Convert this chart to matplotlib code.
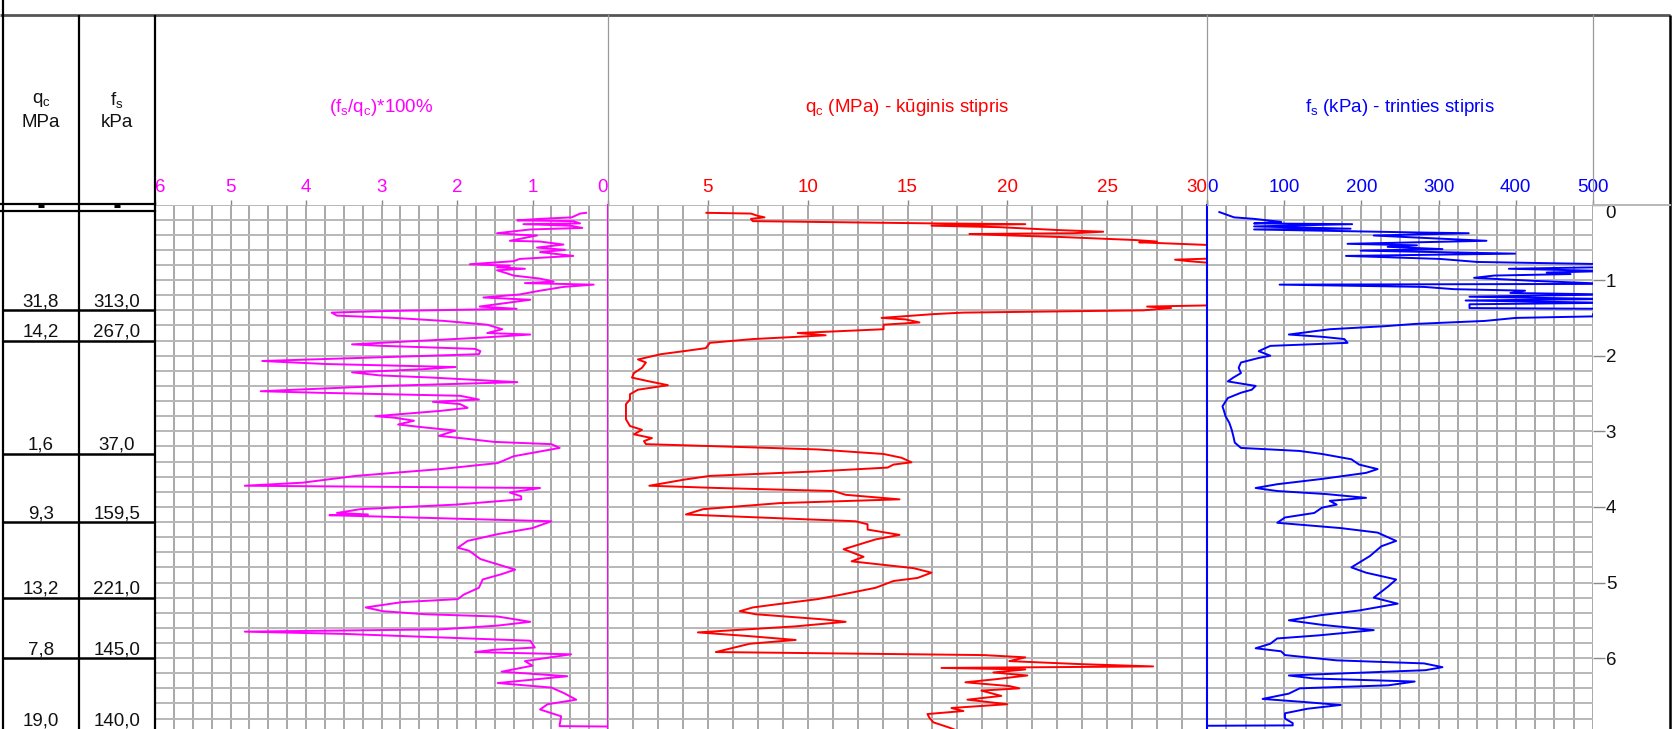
import numpy as np
import matplotlib
matplotlib.use('Agg')
import matplotlib.pyplot as plt
from matplotlib import transforms as mtransforms

plt.rcParams['font.family'] = ['Liberation Sans', 'DejaVu Sans']
plt.rcParams['mathtext.fontset'] = 'custom'
plt.rcParams['mathtext.rm'] = 'Liberation Sans'
plt.rcParams['mathtext.it'] = 'Liberation Sans:italic'

# ---------------- data ----------------
fr_depth = [0.11, 0.12, 0.17, 0.19, 0.21, 0.22, 0.25, 0.26, 0.28, 0.31, 0.33, 0.38, 0.40, 0.41, 0.48,
            0.49, 0.53, 0.57, 0.60, 0.63, 0.68, 0.72, 0.75, 0.79, 0.81, 0.83, 0.85, 0.87, 0.91, 0.94,
            0.98, 1.02, 1.04, 1.06, 1.09, 1.14, 1.19, 1.23, 1.26, 1.32, 1.35, 1.38, 1.41, 1.43, 1.47,
            1.50, 1.54, 1.59, 1.65, 1.70, 1.72, 1.76, 1.85, 1.87, 1.91, 1.94, 1.98, 2.07, 2.11, 2.15,
            2.18, 2.22, 2.26, 2.29, 2.35, 2.40, 2.47, 2.49, 2.53, 2.58, 2.61, 2.64, 2.69, 2.73, 2.80,
            2.82, 2.86, 2.91, 2.95, 2.99, 3.06, 3.10, 3.14, 3.17, 3.22, 3.24, 3.33, 3.42, 3.50, 3.59,
            3.68, 3.72, 3.75, 3.81, 3.86, 3.90, 3.97, 4.03, 4.08, 4.10, 4.11, 4.19, 4.28, 4.36, 4.45,
            4.54, 4.58, 4.69, 4.83, 4.89, 4.96, 5.07, 5.16, 5.22, 5.26, 5.33, 5.38, 5.42, 5.45, 5.52,
            5.57, 5.62, 5.65, 5.68, 5.77, 5.86, 5.89, 5.92, 5.95, 6.04, 6.10, 6.18, 6.24, 6.33, 6.39,
            6.46, 6.55, 6.61, 6.68, 6.77, 6.88, 6.90, 6.905]
fr_vals = [0.29, 0.37, 0.48, 0.90, 1.20, 0.46, 0.37, 1.12, 0.50, 0.34, 1.03, 1.47, 1.17, 0.94, 1.30,
           0.90, 0.59, 0.94, 0.57, 0.90, 0.46, 1.17, 1.25, 1.83, 1.30, 1.47, 1.10, 1.47, 1.34, 1.25,
           0.90, 0.72, 1.10, 0.19, 0.59, 0.90, 1.17, 1.65, 1.03, 1.47, 1.70, 1.21, 2.98, 3.66, 3.59,
           2.83, 2.17, 1.60, 1.40, 1.60, 1.03, 1.66, 3.39, 2.98, 1.76, 1.69, 1.71, 4.58, 3.74, 2.02,
           2.47, 3.39, 3.03, 2.32, 1.20, 2.98, 4.60, 3.84, 1.96, 1.71, 2.32, 1.96, 1.86, 2.22, 3.08,
           2.83, 2.57, 2.78, 2.42, 2.02, 2.24, 1.86, 1.51, 0.75, 0.64, 0.75, 1.25, 1.46, 2.22, 3.34,
           4.05, 4.81, 0.90, 1.30, 1.15, 1.15, 2.02, 3.28, 3.59, 3.18, 3.69, 0.75, 1.00, 1.46, 1.86,
           1.99, 1.84, 1.69, 1.23, 1.41, 1.66, 1.71, 1.91, 1.99, 2.73, 3.21, 2.98, 2.42, 1.46, 1.03,
           1.46, 2.22, 4.81, 3.49, 1.03, 0.97, 1.51, 1.76, 0.49, 1.10, 1.00, 1.41, 0.54, 1.46, 0.75,
           0.59, 0.42, 0.80, 0.90, 0.62, 0.64, 0.64, 0.0]

qc_depth = [0.11, 0.12, 0.15, 0.17, 0.19, 0.22, 0.25, 0.26, 0.28, 0.30, 0.34, 0.36, 0.38, 0.39, 0.41,
            0.43, 0.47, 0.49, 0.50, 0.54, 0.60, 0.70, 0.73, 0.75, 0.78, 0.90, 1.10, 1.33, 1.35, 1.37,
            1.40, 1.43, 1.45, 1.50, 1.52, 1.56, 1.59, 1.65, 1.70, 1.73, 1.75, 1.78, 1.83, 1.90, 1.94,
            1.98, 2.05, 2.09, 2.16, 2.23, 2.29, 2.34, 2.39, 2.45, 2.51, 2.58, 2.64, 2.75, 2.84, 2.93,
            2.98, 3.04, 3.09, 3.13, 3.17, 3.20, 3.24, 3.30, 3.35, 3.41, 3.44, 3.48, 3.53, 3.59, 3.64,
            3.72, 3.75, 3.79, 3.84, 3.90, 3.95, 4.03, 4.10, 4.12, 4.19, 4.23, 4.30, 4.37, 4.43, 4.56,
            4.66, 4.72, 4.81, 4.87, 4.94, 4.98, 5.07, 5.16, 5.22, 5.29, 5.33, 5.38, 5.42, 5.49, 5.52,
            5.58, 5.66, 5.71, 5.76, 5.81, 5.92, 5.96, 5.99, 6.04, 6.08, 6.11, 6.13, 6.15, 6.19, 6.23,
            6.28, 6.32, 6.37, 6.40, 6.43, 6.50, 6.55, 6.61, 6.66, 6.70, 6.74, 6.79, 6.85, 6.92, 6.96]
qc_vals = [4.93, 7.16, 7.5, 7.84, 7.16, 7.25, 16.3, 20.9, 16.2, 19.6, 22.7, 24.8, 23.3, 18.1, 20.2,
           22.7, 26.4, 27.5, 26.6, 30.5, 33.0, 32.0, 28.4, 29.1, 30.5, 34.0, 33.0, 31.0, 27.0, 28.2,
           26.8, 17.8, 16.3, 13.7, 14.9, 15.6, 13.8, 13.8, 9.5, 10.9, 9.5, 7.25, 5.1, 4.9, 3.8,
           2.65, 1.5, 1.9, 1.7, 1.3, 1.2, 2.07, 3.0, 1.5, 1.1, 1.1, 0.9, 0.9, 0.9, 1.1,
           1.7, 1.3, 2.2, 1.8, 1.9, 5.7, 10.5, 13.8, 14.7, 15.2, 14.3, 14.0, 10.5, 5.1, 3.8,
           2.07, 5.5, 11.3, 11.9, 14.6, 8.6, 4.76, 3.9, 5.7, 12.4, 13.0, 13.0, 14.6, 13.4, 11.8,
           12.8, 12.2, 15.3, 16.2, 15.5, 14.3, 13.4, 11.7, 10.5, 8.4, 7.25, 6.6, 7.4, 10.9, 11.9,
           9.4, 4.5, 7.1, 9.4, 7.1, 5.4, 18.8, 20.9, 20.1, 23.7, 27.3, 16.7, 20.9, 19.3, 21.0,
           19.4, 17.9, 20.1, 20.6, 18.7, 19.7, 18.0, 20.0, 17.2, 17.8, 16.0, 16.1, 16.3, 17.1, 17.5]

fs_depth = [0.10, 0.17, 0.19, 0.21, 0.23, 0.25, 0.26, 0.29, 0.32, 0.33, 0.37, 0.38, 0.41, 0.44, 0.48,
            0.52, 0.54, 0.56, 0.59, 0.61, 0.65, 0.68, 0.72, 0.76, 0.79, 0.83, 0.85, 0.88, 0.90, 0.92,
            0.94, 0.97, 1.01, 1.05, 1.06, 1.09, 1.12, 1.14, 1.17, 1.19, 1.22, 1.25, 1.27, 1.30, 1.32,
            1.37, 1.38, 1.45, 1.48, 1.50, 1.54, 1.58, 1.61, 1.65, 1.72, 1.75, 1.78, 1.83, 1.87, 1.94,
            2.00, 2.03, 2.09, 2.16, 2.23, 2.29, 2.34, 2.40, 2.45, 2.49, 2.56, 2.67, 2.73, 2.80, 2.89,
            2.98, 3.06, 3.15, 3.22, 3.26, 3.30, 3.37, 3.44, 3.50, 3.55, 3.63, 3.70, 3.75, 3.79, 3.83,
            3.88, 3.92, 3.97, 4.01, 4.08, 4.14, 4.21, 4.28, 4.34, 4.45, 4.52, 4.65, 4.80, 4.87, 4.96,
            5.05, 5.20, 5.28, 5.37, 5.43, 5.50, 5.56, 5.63, 5.70, 5.74, 5.81, 5.87, 5.91, 5.96, 6.03,
            6.07, 6.12, 6.16, 6.23, 6.27, 6.31, 6.36, 6.40, 6.47, 6.54, 6.58, 6.62, 6.67, 6.73, 6.80,
            6.86, 6.89, 6.895]
fs_vals = [16, 35, 61, 78, 96, 61, 188, 61, 186, 61, 272, 339, 216, 277, 362,
           182, 272, 234, 305, 199, 399, 180, 302, 350, 520, 510, 391, 520, 440, 471,
           372, 346, 423, 520, 94, 281, 320, 412, 393, 520, 340, 520, 335, 520, 340,
           340, 520, 500, 500, 400, 360, 269, 230, 159, 106, 149, 178, 182, 82, 67,
           82, 67, 44, 41, 44, 34, 27, 63, 58, 44, 27, 20, 22, 24, 29,
           32, 34, 36, 44, 120, 149, 187, 197, 221, 206, 149, 91, 63, 91, 154,
           206, 159, 168, 149, 139, 101, 91, 173, 221, 245, 226, 211, 187, 206, 245,
           235, 216, 247, 197, 149, 106, 149, 216, 144, 91, 82, 63, 96, 101, 168,
           281, 305, 283, 106, 139, 269, 235, 120, 106, 72, 125, 173, 130, 101, 101,
           111, 111, 0]

layer_bottom = [1.4, 1.8, 3.3, 4.2, 5.2, 6.0, 6.95]
layer_qc = ['31,8', '14,2', '1,6', '9,3', '13,2', '7,8', '19,0']
layer_fs = ['313,0', '267,0', '37,0', '159,5', '221,0', '145,0', '140,0']

fr_ticks = [6, 5, 4, 3, 2, 1, 0]
qc_ticks = [5, 10, 15, 20, 25, 30]
fs_ticks = [0, 100, 200, 300, 400, 500]
depth_ticks = [0, 1, 2, 3, 4, 5, 6]

# ---------------- layout ----------------
W, H, DPI = 1678, 729, 100
TOP = 204.5
PXM = 75.6
DMAX = (H - TOP) / PXM
FS = 13.5
MAG, RED, BLUE = '#ff00ff', '#ff0000', '#0000ff'
VG, HG = '#9a9a9a', '#b8b8b8'

fig = plt.figure(figsize=(W / DPI, H / DPI), dpi=DPI)


def box(x0, y0, x1, y1):
    return [x0 / W, 1 - y1 / H, (x1 - x0) / W, (y1 - y0) / H]


def panel(x0, x1, xlim, step):
    ax = fig.add_axes(box(x0, TOP, x1, H))
    ax.set_xlim(*xlim)
    ax.set_ylim(DMAX, 0)
    for s in ax.spines.values():
        s.set_visible(False)
    lo, hi = min(xlim), max(xlim)
    for x in np.arange(lo, hi + 1e-9, step):
        ax.axvline(x, color=VG, lw=1.2, zorder=1)
    for d in np.arange(0, DMAX, 0.2):
        ax.axhline(d, color=HG, lw=1.4, zorder=1)
    ax.set_yticks([])
    ax.xaxis.set_ticks_position('top')
    ax.tick_params(axis='x', length=3.6, width=1, color='#888888', labeltop=False,
                   labelbottom=False, direction='out')
    return ax


def top_labels(ax, ticks, color, left_first=False, right_last=False):
    ax.set_xticks(ticks)
    tr = mtransforms.offset_copy(ax.get_xaxis_transform(), fig=fig, y=12.5, units='dots')
    for i, t in enumerate(ticks):
        ha = 'center'
        if left_first and i == 0:
            ha = 'left'
        if right_last and i == len(ticks) - 1:
            ha = 'right'
        ax.text(t, 1.0, str(t), transform=tr, ha=ha, va='baseline', color=color,
                fontsize=FS, clip_on=False)


ax_fr = panel(155, 608, (6, 0), 0.25)
ax_qc = panel(608, 1207, (0, 30), 1.25)
ax_fs = panel(1207, 1593, (0, 500), 25)

top_labels(ax_fr, fr_ticks, MAG, left_first=True, right_last=True)
top_labels(ax_qc, qc_ticks, RED, right_last=True)
top_labels(ax_fs, fs_ticks, BLUE, left_first=True)

ax_fr.plot(fr_vals, fr_depth, color=MAG, lw=1.4, zorder=3)
ax_fr.axvline(0, color=MAG, lw=1.5, zorder=4, clip_on=False)
ax_qc.plot(qc_vals, qc_depth, color=RED, lw=1.4, zorder=3)
ax_fs.plot(fs_vals, fs_depth, color=BLUE, lw=1.4, zorder=3)
ax_fs.axvline(0, color=BLUE, lw=1.5, zorder=4, clip_on=False)

# depth axis on the right
ax_fs.yaxis.set_ticks_position('right')
ax_fs.set_yticks(depth_ticks)
ax_fs.tick_params(axis='y', length=8.6, width=1, color='#888888', labelright=False,
                  labelleft=False, direction='out')
trd = mtransforms.offset_copy(ax_fs.get_yaxis_transform(), fig=fig, x=18, units='dots')
for d in depth_ticks:
    ax_fs.text(1.0, d, str(d), transform=trd, ha='center',
               va='top' if d == 0 else 'center_baseline', fontsize=FS, color='#111111',
               clip_on=False)

# titles
ty = 1 + (TOP - 108) / (H - TOP)
ax_fr.text(0.5, ty, r'(f$_\mathrm{s}$/q$_\mathrm{c}$)*100%',
           transform=ax_fr.transAxes, ha='center', va='center', color=MAG, fontsize=FS)
ax_qc.text(0.5, ty, r'q$_\mathrm{c}$ (MPa) - kūginis stipris',
           transform=ax_qc.transAxes, ha='center', va='center', color=RED, fontsize=FS)
ax_fs.text(0.5, ty, r'f$_\mathrm{s}$ (kPa) - trinties stipris',
           transform=ax_fs.transAxes, ha='center', va='center', color=BLUE, fontsize=FS)

# layer table
ax_tab = fig.add_axes(box(3, TOP, 155, H))
ax_tab.set_xlim(0, 2)
ax_tab.set_ylim(DMAX, 0)
ax_tab.axis('off')
ax_tab.hlines(layer_bottom, 0, 2, color='black', lw=1.8, clip_on=False)
trt = mtransforms.offset_copy(ax_tab.transData, fig=fig, y=4, units='dots')
for d, q, f in zip(layer_bottom, layer_qc, layer_fs):
    ax_tab.text(0.5, d, q, transform=trt, ha='center', va='baseline', fontsize=FS,
                color='#111111', clip_on=False)
    ax_tab.text(1.5, d, f, transform=trt, ha='center', va='baseline', fontsize=FS,
                color='#111111', clip_on=False)

# frame / overlay (pixel coordinates)
ov = fig.add_axes([0, 0, 1, 1], zorder=10)
ov.set_xlim(0, W)
ov.set_ylim(H, 0)
ov.axis('off')
ov.plot([0, 1670], [15, 15], color='#555555', lw=2, solid_capstyle='butt')
for x in (3, 79, 155):
    ov.plot([x, x], [0 if x == 3 else 15, H], color='black', lw=1.6, solid_capstyle='butt')
ov.plot([1670, 1670], [15, H], color='black', lw=1.8, solid_capstyle='butt')
for x in (608, 1207, 1593):
    ov.plot([x, x], [15, TOP], color='#999999', lw=0.9)
ov.plot([1593, 1670], [TOP, TOP], color=HG, lw=1.4)
ov.plot([0, 155], [204, 204], color='black', lw=1.6)
ov.plot([0, 155], [211, 211], color='black', lw=1.6)
for x in (41, 117):
    ov.plot([x - 3, x + 3], [205.5, 205.5], color='black', lw=2.2, solid_capstyle='butt')
ov.text(41, 100, r'q$_\mathrm{c}$', ha='center', va='center', fontsize=FS, color='#111111')
ov.text(41, 122, 'MPa', ha='center', va='center', fontsize=FS, color='#111111')
ov.text(117, 100, r'f$_\mathrm{s}$', ha='center', va='center', fontsize=FS, color='#111111')
ov.text(117, 122, 'kPa', ha='center', va='center', fontsize=FS, color='#111111')

fig.savefig('out.png', dpi=DPI)
